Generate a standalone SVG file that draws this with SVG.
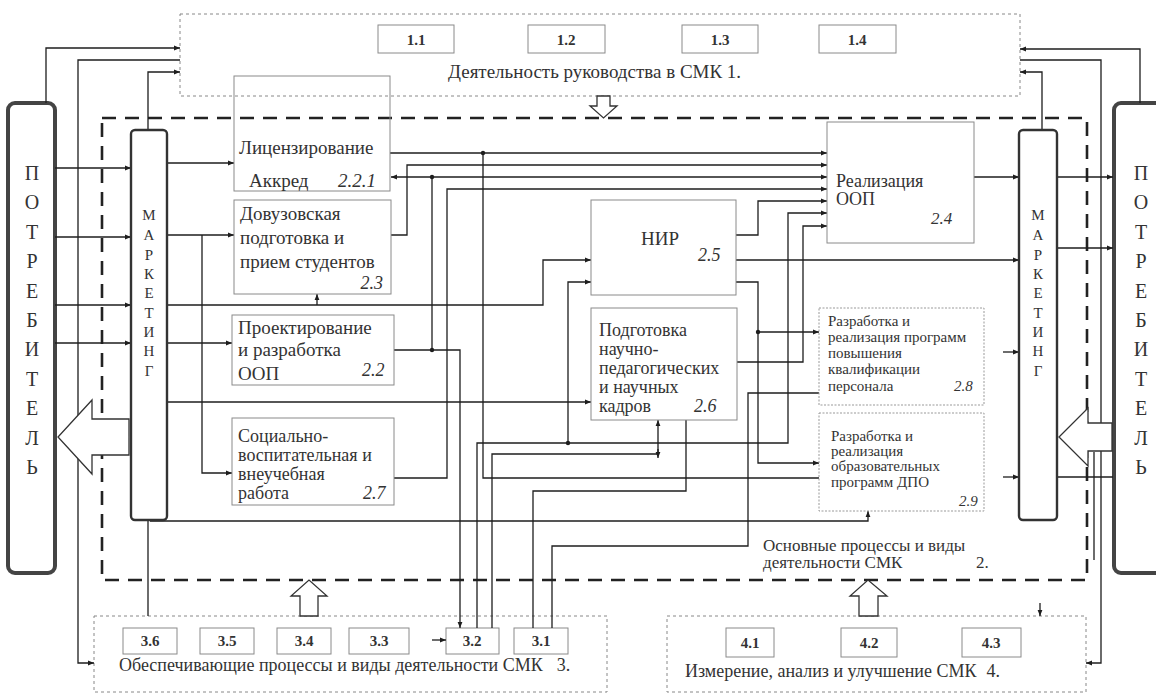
<svg xmlns="http://www.w3.org/2000/svg" width="1156" height="695" viewBox="0 0 1156 695" font-family="'Liberation Serif', 'DejaVu Serif', serif">
<style>
text{font-family:'Liberation Serif','DejaVu Serif',serif;fill:#333}
.t19{font-size:19px}
.t18{font-size:18px}
.t17{font-size:17px}
.t15{font-size:15px}
.num{font-size:15px;font-weight:bold;text-anchor:middle}
.it{font-style:italic}
.let{font-size:20px;text-anchor:middle}
.mk{font-size:15px;text-anchor:middle}
.box{fill:#fff;stroke:#8a8a8a;stroke-width:1}
.dbox{fill:#fff;stroke:#999;stroke-width:1;stroke-dasharray:2 1.5}
.grp{fill:none;stroke:#888;stroke-width:1;stroke-dasharray:3 3}
.big{fill:none;stroke:#222;stroke-width:2.6;stroke-dasharray:14 9}
.pot{fill:#fff;stroke:#444;stroke-width:4}
.mark{fill:#fff;stroke:#333;stroke-width:2.4}
.c{fill:none;stroke:#1e1e1e;stroke-width:1.3}
.a{marker-end:url(#ah)}
.hol{fill:#fff;stroke:#333;stroke-width:1.3}
.dot{fill:#1e1e1e}
</style>
<defs>
<marker id="ah" viewBox="0 0 10 10" refX="10" refY="5" markerWidth="8" markerHeight="6" markerUnits="userSpaceOnUse" orient="auto"><path d="M0,1 L10,5 L0,9 z" fill="#1e1e1e"/></marker>
</defs>
<rect width="1156" height="695" fill="#fff"/>

<g id="g1">
<rect class="grp" x="180" y="14" width="840" height="82"/>
<rect class="box" x="378" y="25" width="76" height="28"/><text class="num" x="416" y="45">1.1</text>
<rect class="box" x="528" y="25" width="77" height="28"/><text class="num" x="566" y="45">1.2</text>
<rect class="box" x="682" y="25" width="76" height="28"/><text class="num" x="720" y="45">1.3</text>
<rect class="box" x="819" y="25" width="77" height="28"/><text class="num" x="857" y="45">1.4</text>
<text class="t19" x="448" y="78">Деятельность руководства в СМК 1.</text>
</g>

<g id="g2frame">
<rect class="big" x="102" y="118" width="985" height="462"/>
<text class="t17" x="763" y="551">Основные процессы и виды</text>
<text class="t17" x="763" y="568">деятельности СМК</text>
<text class="t17" x="976" y="568">2.</text>
</g>

<g id="g3">
<rect class="grp" x="94" y="616" width="513" height="76"/>
<rect class="box" x="123" y="628" width="54" height="26"/><text class="num" x="150" y="646">3.6</text>
<rect class="box" x="200" y="628" width="54" height="26"/><text class="num" x="227" y="646">3.5</text>
<rect class="box" x="277" y="628" width="54" height="26"/><text class="num" x="304" y="646">3.4</text>
<rect class="box" x="349" y="628" width="60" height="26"/><text class="num" x="379" y="646">3.3</text>
<rect class="box" x="446" y="628" width="53" height="26"/><text class="num" x="472" y="646">3.2</text>
<rect class="box" x="514" y="628" width="54" height="26"/><text class="num" x="541" y="646">3.1</text>
<text class="t18" x="119" y="671">Обеспечивающие процессы и виды деятельности СМК<tspan dx="14">3.</tspan></text>
</g>

<g id="g4">
<rect class="grp" x="667" y="616" width="419" height="76"/>
<rect class="box" x="726" y="628" width="48" height="29"/><text class="num" x="750" y="648">4.1</text>
<rect class="box" x="841" y="628" width="56" height="29"/><text class="num" x="869" y="648">4.2</text>
<rect class="box" x="962" y="628" width="59" height="29"/><text class="num" x="991" y="648">4.3</text>
<text class="t18" x="685" y="677">Измерение, анализ и улучшение СМК<tspan dx="10">4.</tspan></text>
</g>

<g id="pot-left">
<rect class="pot" x="8" y="103" width="47" height="470" rx="7"/>
<text class="let" x="32" y="180">П</text><text class="let" x="32" y="209">О</text><text class="let" x="32" y="239">Т</text><text class="let" x="32" y="268">Р</text><text class="let" x="32" y="298">Е</text><text class="let" x="32" y="327">Б</text><text class="let" x="32" y="356">И</text><text class="let" x="32" y="386">Т</text><text class="let" x="32" y="415">Е</text><text class="let" x="32" y="445">Л</text><text class="let" x="32" y="474">Ь</text>
</g>
<g id="pot-right">
<rect class="pot" x="1114" y="103" width="50" height="470" rx="7"/>
<text class="let" x="1141" y="180">П</text><text class="let" x="1141" y="209">О</text><text class="let" x="1141" y="239">Т</text><text class="let" x="1141" y="268">Р</text><text class="let" x="1141" y="298">Е</text><text class="let" x="1141" y="327">Б</text><text class="let" x="1141" y="356">И</text><text class="let" x="1141" y="386">Т</text><text class="let" x="1141" y="415">Е</text><text class="let" x="1141" y="445">Л</text><text class="let" x="1141" y="474">Ь</text>
</g>

<g id="connectors">
<path class="c a" d="M46,103 V48 H180"/>
<path class="c a" d="M180,60 H78 V663 H94"/>
<path class="c a" d="M148,130 V72 H180"/>
<path class="c a" d="M55,168 H131"/>
<path class="c a" d="M55,237 H131"/>
<path class="c a" d="M55,305 H131"/>
<path class="c a" d="M55,343 H131"/>
<path class="c a" d="M167,163 H234"/>
<path class="c a" d="M167,235 H234"/>
<path class="c a" d="M202,235 V473 H232"/>
<path class="c a" d="M167,343 H232"/>
<path class="c a" d="M167,305 H543 V260 H591"/>
<path class="c a" d="M317,305 V294"/>
<path class="c a" d="M167,402 H591"/>
<path class="c a" d="M150,521 H868 V511"/>
<path class="c" d="M148,520 V616"/>
<path class="c a" d="M390,153 H827"/>
<path class="c" d="M483,153 V478 H819"/>
<path class="c a" d="M391,235 H407 V165 H827"/>
<path class="c" d="M432,350 V177"/>
<path class="c a" d="M432,177 H391"/>
<path class="c a" d="M432,177 H827"/>
<path class="c a" d="M394,350 H460 V628"/>
<path class="c a" d="M394,478 H447 V189 H827"/>
<path class="c a" d="M477,628 V443 H788 V213 H827"/>
<path class="c a" d="M568,443 V282 H591"/>
<path class="c a" d="M492,628 V454 H658 V420"/>
<path class="c a" d="M658,449 V458"/>
<path class="c" d="M686,420 V491 H533 V628"/>
<path class="c a" d="M737,362 H803 V226 H827"/>
<path class="c a" d="M736,235 H758 V201 H827"/>
<path class="c a" d="M736,260 H1019"/>
<path class="c a" d="M736,282 H758 V463 H819"/>
<path class="c a" d="M758,332 H819"/>
<path class="c" d="M552,628 V546 H748 V393 H819"/>
<path class="c a" d="M974,177 H1019"/>
<path class="c a" d="M1057,177 H1113"/>
<path class="c a" d="M1057,248 H1113"/>
<path class="c" d="M1057,477 H1113"/>
<path class="c a" d="M1003,352 H1019"/>
<path class="c a" d="M1003,477 H1019"/>
<path class="c a" d="M1140,103 V49 H1020"/>
<path class="c a" d="M1020,60 H1101 V663 H1086"/>
<path class="c a" d="M1042,130 V72 H1020"/>
<path class="c" d="M1094,452 V560"/>
<path class="c a" d="M1040,603 V616"/>
<path class="c a" d="M432,640 H446"/>
<circle class="dot" cx="483" cy="153" r="2.2"/>
<circle class="dot" cx="432" cy="177" r="2.2"/>
<circle class="dot" cx="432" cy="350" r="2.2"/>
<circle class="dot" cx="568" cy="443" r="2.2"/>
<circle class="dot" cx="758" cy="332" r="2.2"/>
<path class="hol" d="M597,96 H610 V106 H617 L603.5,118 L590,106 H597 Z"/>
<path class="hol" d="M300,616 V596 H291 L309,580 L327,596 H318 V616 Z"/>
<path class="hol" d="M859,616 V596 H850 L868,580 L887,596 H878 V616 Z"/>
<path class="hol" d="M129,419 H92 V400 L58,437 L92,474 V455 H129 Z"/>
<path class="hol" d="M1112,423 H1088 V408 L1059,437 L1088,466 V451 H1112 Z"/>
</g>

<g id="mark-left">
<rect class="mark" x="131" y="130" width="36" height="390" rx="4"/>
<text class="mk" x="149" y="220">М</text><text class="mk" x="149" y="240">А</text><text class="mk" x="149" y="260">Р</text><text class="mk" x="149" y="279">К</text><text class="mk" x="149" y="298">Е</text><text class="mk" x="149" y="318">Т</text><text class="mk" x="149" y="337">И</text><text class="mk" x="149" y="356">Н</text><text class="mk" x="149" y="376">Г</text>
</g>
<g id="mark-right">
<rect class="mark" x="1019" y="130" width="38" height="390" rx="4"/>
<text class="mk" x="1038" y="220">М</text><text class="mk" x="1038" y="240">А</text><text class="mk" x="1038" y="260">Р</text><text class="mk" x="1038" y="279">К</text><text class="mk" x="1038" y="298">Е</text><text class="mk" x="1038" y="318">Т</text><text class="mk" x="1038" y="337">И</text><text class="mk" x="1038" y="356">Н</text><text class="mk" x="1038" y="376">Г</text>
</g>

<g id="n221">
<rect class="box" x="234" y="76" width="156" height="115" fill-opacity="0"/>
<text class="t19" x="239" y="154">Лицензирование</text>
<text class="t19" x="249" y="187">Аккред</text>
<text class="t19 it" x="338" y="187">2.2.1</text>
</g>
<g id="n23">
<rect class="box" x="234" y="200" width="157" height="94"/>
<text class="t19" x="240" y="220">Довузовская</text>
<text class="t19" x="240" y="244">подготовка и</text>
<text class="t19" x="240" y="268">прием студентов</text>
<text class="t18 it" x="383" y="289" text-anchor="end">2.3</text>
</g>
<g id="n22">
<rect class="box" x="232" y="315" width="162" height="70"/>
<text class="t19" x="238" y="334">Проектирование</text>
<text class="t19" x="238" y="356">и разработка</text>
<text class="t19" x="238" y="380">ООП</text>
<text class="t18 it" x="362" y="376">2.2</text>
</g>
<g id="n27">
<rect class="box" x="232" y="418" width="162" height="87"/>
<text class="t18" x="238" y="442">Социально-</text>
<text class="t18" x="238" y="461">воспитательная и</text>
<text class="t18" x="238" y="480">внеучебная</text>
<text class="t18" x="238" y="499">работа</text>
<text class="t18 it" x="363" y="499">2.7</text>
</g>
<g id="n25">
<rect class="box" x="591" y="200" width="145" height="95"/>
<text class="t19" x="660" y="245" text-anchor="middle">НИР</text>
<text class="t18 it" x="698" y="261">2.5</text>
</g>
<g id="n26">
<rect class="box" x="591" y="308" width="146" height="112"/>
<text class="t18" x="599" y="336">Подготовка</text>
<text class="t18" x="599" y="355">научно-</text>
<text class="t18" x="599" y="374">педагогических</text>
<text class="t18" x="599" y="393">и научных</text>
<text class="t18" x="599" y="412">кадров</text>
<text class="t18 it" x="694" y="412">2.6</text>
</g>
<g id="n24">
<rect class="box" x="827" y="122" width="147" height="121"/>
<text class="t18" x="836" y="187">Реализация</text>
<text class="t18" x="836" y="205">ООП</text>
<text class="t17 it" x="931" y="224">2.4</text>
</g>
<g id="n28">
<rect class="dbox" x="819" y="308" width="165" height="97"/>
<text class="t15" x="828" y="326">Разработка и</text>
<text class="t15" x="828" y="342">реализация программ</text>
<text class="t15" x="828" y="358">повышения</text>
<text class="t15" x="828" y="374">квалификации</text>
<text class="t15" x="828" y="391">персонала</text>
<text class="t15 it" x="954" y="391">2.8</text>
</g>
<g id="n29">
<rect class="dbox" x="819" y="413" width="165" height="98"/>
<text class="t15" x="831" y="441">Разработка и</text>
<text class="t15" x="831" y="456">реализация</text>
<text class="t15" x="831" y="471">образовательных</text>
<text class="t15" x="831" y="487">программ ДПО</text>
<text class="t15 it" x="959" y="506">2.9</text>
</g>
</svg>
